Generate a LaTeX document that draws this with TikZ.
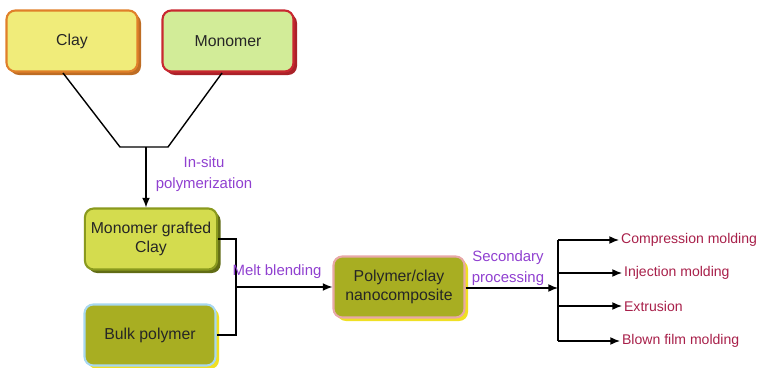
\documentclass[tikz,border=0pt]{standalone}
\usepackage{fontspec}
\setmainfont{Liberation Sans}
\usetikzlibrary{shadows,arrows.meta}
\definecolor{clayfill}{HTML}{F0EC7A}
\definecolor{clayline}{HTML}{E0802A}
\definecolor{monofill}{HTML}{D2EC98}
\definecolor{monoline}{HTML}{C82830}
\definecolor{graftfill}{HTML}{D4DC4E}
\definecolor{graftline}{HTML}{8A9A1E}
\definecolor{olivefill}{HTML}{A8AE22}
\definecolor{bluerand}{HTML}{A8D8F0}
\definecolor{pinkrand}{HTML}{E8A8A8}
\definecolor{gelbschatten}{HTML}{F0E024}
\definecolor{lila}{HTML}{9040D0}
\definecolor{weinrot}{HTML}{A8204A}
\tikzset{
  kasten/.style={draw, line width=1.2pt, rounded corners=5pt, minimum width=2.62cm,
    minimum height=1.22cm, align=center, font=\fontsize{9}{11}\selectfont, text=black!85},
  verb/.style={line width=0.8pt},
  pfeil/.style={verb, -{Latex[length=5.5pt,width=4.5pt]}},
  proz/.style={text=lila, font=\fontsize{8.5}{12}\selectfont, align=center},
  ergebnis/.style={text=weinrot, font=\fontsize{8}{10}\selectfont, anchor=west, inner sep=1pt}
}
\begin{document}
\begin{tikzpicture}[x=0.02cm, y=-0.02cm]
  \useasboundingbox (0,0) rectangle (762,368);

  % Ausgangsstoffe
  \node[kasten, fill=clayfill, draw=clayline,
    drop shadow={shadow xshift=2pt, shadow yshift=-2pt, fill=clayline!85!black, opacity=1}] (clay) at (72,41) {Clay};
  \node[kasten, fill=monofill, draw=monoline,
    drop shadow={shadow xshift=2pt, shadow yshift=-2pt, fill=monoline!85!black, opacity=1}] (monomer) at (228,41) {Monomer};

  % Zwischenprodukt und Polymer
  \node[kasten, fill=graftfill, draw=graftline,
    drop shadow={shadow xshift=2pt, shadow yshift=-2pt, fill=graftline!70!black, opacity=1}] (grafted) at (151,239) {Monomer grafted\\Clay};
  \node[kasten, fill=olivefill, draw=bluerand,
    drop shadow={shadow xshift=2pt, shadow yshift=-2pt, fill=gelbschatten, opacity=1}] (bulk) at (150,335) {Bulk polymer};

  % Nanokomposit
  \node[kasten, fill=olivefill, draw=pinkrand,
    drop shadow={shadow xshift=2pt, shadow yshift=-2pt, fill=gelbschatten, opacity=1}] (nano) at (399,287) {Polymer/clay\\nanocomposite};

  % Zusammenfuehrung Clay + Monomer
  \coordinate (linksunten) at (120,147);
  \coordinate (rechtsunten) at (168,147);
  \coordinate (mitte) at (146,147);
  \draw[verb] (63,73) -- (linksunten) -- (rechtsunten) -- (222,73);
  \draw[pfeil] (mitte) -- (grafted.north -| mitte);
  \node[proz] (insitu) at (204,174) {In-situ\\polymerization};

  % Schmelzmischen
  \coordinate (knoten) at (236,287);
  \draw[verb] (grafted.east) -| (knoten) |- (bulk.east);
  \draw[pfeil] (knoten) -- (nano.west |- knoten);
  \node[proz] (melt) at (277,272) {Melt blending};

  % Weiterverarbeitung
  \coordinate (verteiler) at (558,288);
  \draw[pfeil] (nano.east |- verteiler) -- (verteiler);
  \node[proz] (sekundaer) at (508,268) {Secondary\\processing};
  \draw[verb] (558,240) -- (558,341);

  \node[ergebnis] (comp) at (619,240) {Compression molding};
  \node[ergebnis] (inj) at (622,273) {Injection molding};
  \node[ergebnis] (ext) at (622,306) {Extrusion};
  \node[ergebnis] (blown) at (620,341) {Blown film molding};
  \foreach \z in {comp, inj, ext, blown}
    \draw[pfeil] (verteiler |- \z.west) -- (\z.west);

\end{tikzpicture}
\end{document}
